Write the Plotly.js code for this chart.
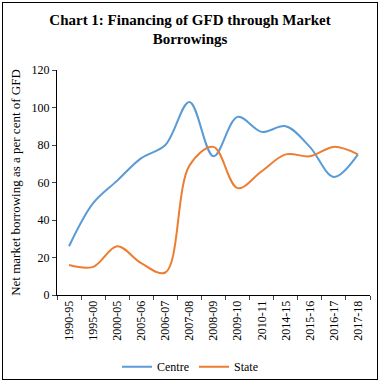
<!DOCTYPE html>
<html><head><meta charset="utf-8">
<script src="https://cdn.plot.ly/plotly-3.0.1.min.js"></script>
<style>
html,body{margin:0;padding:0;background:#fff;}
#frame{position:absolute;left:2px;top:2px;width:376px;height:378px;border:1px solid #000;box-sizing:border-box;}
#chart{position:absolute;left:0;top:0;width:380px;height:382px;}
</style>
</head><body>
<div id="frame"></div>
<div id="chart"></div>
<script>
const categories = ["1990-95","1995-00","2000-05","2005-06","2006-07","2007-08","2008-09","2009-10","2010-11","2014-15","2015-16","2016-17","2017-18"];
const centre = [26, 49, 61, 73, 80, 103, 74, 95, 87, 90, 79, 63, 75];
const state = [16, 15, 26, 17, 12, 69, 79, 57, 66, 75, 74, 79, 75];

const serif = "Liberation Serif, DejaVu Serif, serif";
const data = [
  {x: categories, y: centre, name: "Centre", type: "scatter", mode: "lines",
   line: {color: "#5b9bd5", width: 2, shape: "spline", smoothing: 1}},
  {x: categories, y: state, name: "State", type: "scatter", mode: "lines",
   line: {color: "#ed7d31", width: 2, shape: "spline", smoothing: 1}}
];
const layout = {
  width: 380, height: 382,
  paper_bgcolor: "rgba(0,0,0,0)", plot_bgcolor: "rgba(0,0,0,0)",
  margin: {l: 57, r: 10, t: 70, b: 87, autoexpand: false},
  title: {text: "<b>Chart 1: Financing of GFD through Market<br>Borrowings</b>",
          font: {family: serif, size: 15, color: "#000"}, x: 0.5, xanchor: "center", y: 0.935, yanchor: "top"},
  font: {family: serif, size: 12, color: "#000"},
  xaxis: {type: "category", tickangle: -90, ticks: "outside", tickson: "boundaries", ticklen: 4,
          showline: true, linecolor: "#000", linewidth: 1, showgrid: false, zeroline: false,
          tickfont: {family: serif, size: 12, color: "#000"}, range: [-0.5, 12.5]},
  yaxis: {range: [0, 120], dtick: 20, ticks: "outside", ticklen: 4, showline: true, linecolor: "#000",
          linewidth: 1, showgrid: false, zeroline: false,
          tickfont: {family: serif, size: 12, color: "#000"},
          title: {text: "Net market borrowing as a per cent of GFD", font: {family: serif, size: 13, color: "#000"}, standoff: 8}},
  showlegend: true,
  legend: {orientation: "h", x: 0.5, xref: "container", xanchor: "center", y: 0.04, yref: "container", yanchor: "middle",
           font: {family: serif, size: 12, color: "#000"}, tracegroupgap: 0}
};
Plotly.newPlot("chart", data, layout, {displayModeBar: false, staticPlot: true});
</script>
</body></html>
